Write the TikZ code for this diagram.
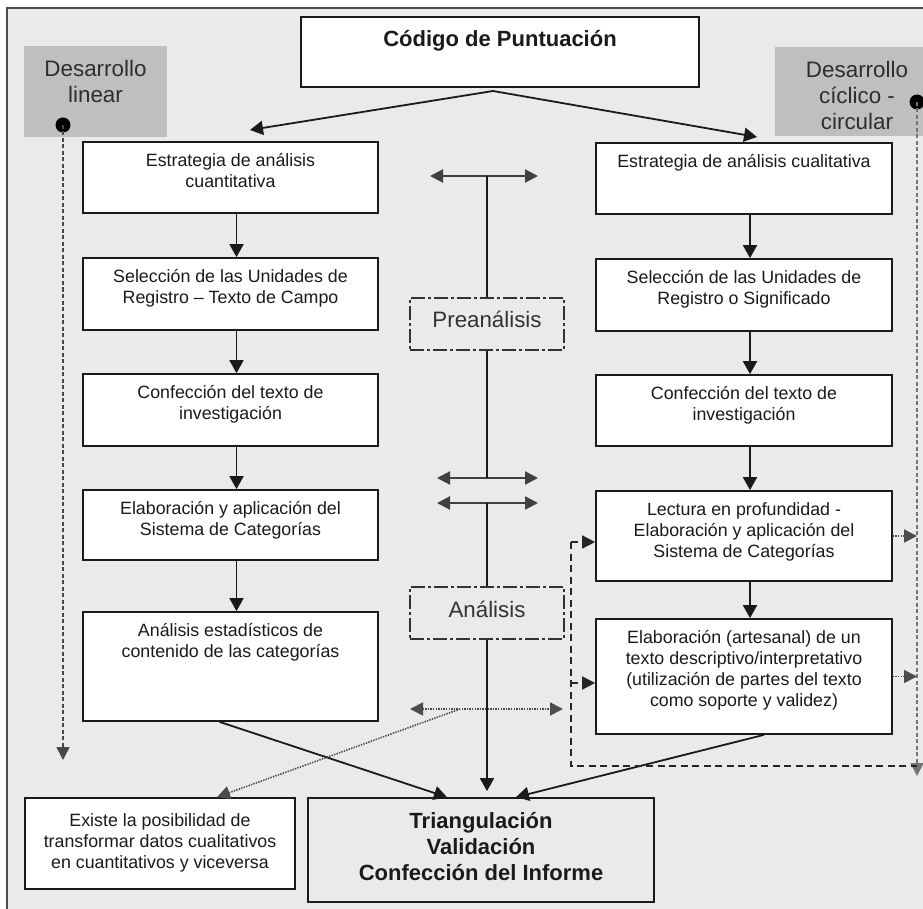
\documentclass[tikz,border=0pt]{standalone}
\usepackage{fontspec}
\setmainfont{Liberation Sans}
\usetikzlibrary{arrows.meta,fit}

\definecolor{panel}{HTML}{EAEAEA}
\definecolor{tabfill}{HTML}{BFBFBF}
\definecolor{ink}{HTML}{1A1A1A}

\tikzset{
  box/.style={draw=ink, line width=1.7pt, fill=white, inner sep=0pt},
  graybox/.style={draw=ink, line width=1.7pt, fill=panel, inner sep=0pt},
  stagebox/.style={draw=black!80, line width=1.4pt, inner sep=0pt,
    dash pattern=on 14pt off 3pt on 3pt off 3pt},
  tabbox/.style={fill=tabfill, inner sep=0pt},
  txt/.style={anchor=north, inner sep=0pt, align=center, text=ink,
    font=\fontsize{17.8}{21}\selectfont},
  tabtxt/.style={anchor=north, inner sep=0pt, align=center, text=black!82,
    font=\fontsize{22.4}{26}\selectfont},
  stagetxt/.style={anchor=base, inner sep=0pt, text=black!80,
    font=\fontsize{22.3}{26}\selectfont},
  boldtxt/.style={anchor=north, inner sep=0pt, align=center, text=ink,
    font=\bfseries\fontsize{22}{26}\selectfont},
  conn/.style={draw=ink, line width=1.8pt, -{Triangle[length=13pt,width=14pt]}},
  plain/.style={draw=ink, line width=1.8pt},
  twoway/.style={draw=black!75, line width=2.2pt,
    {Triangle[length=13pt,width=13pt]}-{Triangle[length=13pt,width=13pt]}},
  dotdbl/.style={draw=black!70, line width=1.7pt, dash pattern=on 1.4pt off 1.2pt,
    {Triangle[length=13pt,width=13pt]}-{Triangle[length=13pt,width=13pt]}},
  dotarrow/.style={draw=black!70, line width=1.6pt, dash pattern=on 1.4pt off 1.2pt,
    -{Triangle[length=13pt,width=13pt]}},
  flowdash/.style={draw=black!85, line width=1.6pt, dash pattern=on 7pt off 4.5pt},
  flowarrow/.style={flowdash, -{Triangle[length=13pt,width=13pt]}},
  devline/.style={draw=black!72, line width=1.6pt, dash pattern=on 4pt off 2.5pt,
    -{Triangle[length=13pt,width=13pt]}},
  devlinelight/.style={devline, draw=black!55},
  bullet/.style={circle, fill=black, inner sep=0pt, minimum size=15pt},
  frameline/.style={draw=black!70, line width=2.2pt}
}

\begin{document}
\begin{tikzpicture}[x=1pt,y=-1pt]
\useasboundingbox (0,0) rectangle (923,909);

% panel
\fill[panel] (7,8) rectangle (923,909);
\draw[frameline] (7,909) -- (7,8) -- (923,8);

% development tabs
\node[tabbox, fit={(24,46) (167,137)}] (lin) {};
\node[tabtxt] (lintxt) at (95.5,58.3) {\strut Desarrollo\\linear};
\node[tabbox, fit={(775,47) (923,136)}] (cyc) {};
\node[tabtxt] (cyctxt) at (857,58.8) {\strut Desarrollo\\cíclico -\\circular};

% title box
\node[box, fit={(301,17) (699,87)}] (code) {};
\node[anchor=base, inner sep=0pt, text=ink, font=\bfseries\fontsize{22}{26}\selectfont]
  (codetxt) at (500,47) {Código de Puntuación};

% left column
\node[box, fit={(83,142) (378,213)}] (L1) {};
\node[box, fit={(83,258) (378,330)}] (L2) {};
\node[box, fit={(83,374) (378,446)}] (L3) {};
\node[box, fit={(83,490) (378,560)}] (L4) {};
\node[box, fit={(83,612) (378,721)}] (L5) {};
\node[txt] (L1t) at ([yshift=-10.8pt]L1.north) {\strut Estrategia de análisis\\cuantitativa};
\node[txt] (L2t) at ([yshift=-10.8pt]L2.north) {\strut Selección de las Unidades de\\Registro – Texto de Campo};
\node[txt] (L3t) at ([yshift=-10.8pt]L3.north) {\strut Confección del texto de\\investigación};
\node[txt] (L4t) at ([yshift=-10.8pt]L4.north) {\strut Elaboración y aplicación del\\Sistema de Categorías};
\node[txt] (L5t) at ([yshift=-10.8pt]L5.north) {\strut Análisis estadísticos de\\contenido de las categorías};

% right column
\node[box, fit={(596,143) (892,214)}] (R1) {};
\node[box, fit={(596,259) (892,331)}] (R2) {};
\node[box, fit={(596,375) (892,446)}] (R3) {};
\node[box, fit={(596,491) (892,581)}] (R4) {};
\node[box, fit={(596,619) (892,734)}] (R5) {};
\node[txt] (R1t) at ([yshift=-10.8pt]R1.north) {\strut Estrategia de análisis cualitativa};
\node[txt] (R2t) at ([yshift=-10.8pt]R2.north) {\strut Selección de las Unidades de\\Registro o Significado};
\node[txt] (R3t) at ([yshift=-10.8pt]R3.north) {\strut Confección del texto de\\investigación};
\node[txt] (R4t) at ([yshift=-10.8pt]R4.north) {\strut Lectura en profundidad -\\Elaboración y aplicación del\\Sistema de Categorías};
\node[txt] (R5t) at ([yshift=-10.8pt]R5.north) {\strut Elaboración (artesanal) de un\\texto descriptivo/interpretativo\\(utilización de partes del texto\\como soporte y validez)};

% stage boxes
\node[stagebox, fit={(410,298) (564,350)}] (pre) {};
\node[stagetxt] (pretxt) at (487,327) {Preanálisis};
\node[stagebox, fit={(410,587) (564,639)}] (ana) {};
\node[stagetxt] (anatxt) at (487,617) {Análisis};

% bottom boxes
\node[box, fit={(25,798) (295,889)}] (ex) {};
\node[txt] (ext) at (160,811.3) {\strut Existe la posibilidad de\\transformar datos cualitativos\\en cuantitativos y viceversa};
\node[graybox, fit={(308,798) (654,902)}] (tri) {};
\node[boldtxt] (trit) at (481,809.8) {\strut Triangulación\\Validación\\Confección del Informe};

% split from the title
\coordinate (fork) at (493,91);
\coordinate (forkL) at (250,130);
\coordinate (forkR) at (757,137);
\draw[conn] (fork) -- (forkL);
\draw[conn] (fork) -- (forkR);

% column flow
\foreach \a/\b in {L1/L2, L2/L3, L3/L4, L4/L5, R1/R2, R2/R3, R3/R4, R4/R5}
  \draw[conn] ([xshift=6pt]\a.south) -- ([xshift=6pt]\b.north);

% central axis
\coordinate (t0l) at (430,176);
\coordinate (t0r) at (538,176);
\coordinate (t0m) at (487,176);
\coordinate (t1l) at (437,478);
\coordinate (t1r) at (538,478);
\coordinate (t1m) at (487,478);
\coordinate (t2l) at (437,503);
\coordinate (t2r) at (538,503);
\coordinate (t2m) at (487,503);
\draw[twoway] (t0l) -- (t0r);
\draw[twoway] (t1l) -- (t1r);
\draw[twoway] (t2l) -- (t2r);
\draw[plain] (t0m) -- (pre.north);
\draw[plain] (pre.south) -- (t1m);
\draw[plain] (t2m) -- (ana.north);
\draw[conn, shorten >=6pt] (ana.south) -- (ana.south |- tri.north);

% into the final box
\draw[conn] ([xshift=-11pt]L5.south) -- ([xshift=-34pt]tri.north);
\draw[conn] ([xshift=20pt]R5.south) -- ([xshift=35pt]tri.north);

% conversion between data types
\coordinate (cvl) at (410,709);
\coordinate (cvr) at (563,709);
\coordinate (cvm) at (460,709);
\draw[dotdbl] (cvl) -- (cvr);
\draw[dotarrow] (cvm) -- ([xshift=57pt]ex.north);

% linear development
\node[bullet] (dotL) at (63,125) {};
\coordinate (linend) at (63,760);
\draw[devline] (dotL.center) -- (linend);

% cyclic development
\node[bullet] (dotR) at (917,102) {};
\coordinate (cycend) at (917,776);
\draw[devlinelight] (dotR.center) -- (cycend);

% feedback loop
\coordinate (fbtop) at (571,542);
\coordinate (fbmid) at (571,683);
\coordinate (fbbot) at (571,766);
\coordinate (fbend) at (917,766);
\draw[flowdash] (fbtop) -- (fbbot) -- (fbend);
\draw[flowarrow] (fbtop) -- (fbtop -| R4.west);
\draw[flowarrow] (fbmid) -- (fbmid -| R5.west);
\draw[dotarrow] (R4.east) -- (R4.east -| dotR);
\draw[dotarrow] (R5.east) -- (R5.east -| dotR);
\end{tikzpicture}
\end{document}
